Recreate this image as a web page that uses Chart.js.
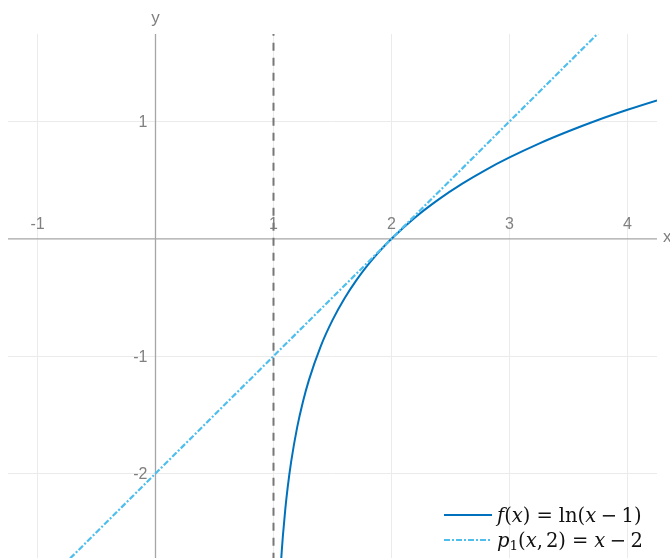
<!DOCTYPE html>
<html>
<head>
<meta charset="utf-8">
<script src="https://cdn.jsdelivr.net/npm/chart.js@4"></script>
<style>
  html, body { margin: 0; padding: 0; background: #ffffff; }
  #wrap { position: relative; width: 670px; height: 558px; }
</style>
</head>
<body>
<div id="wrap"><canvas id="c" width="670" height="558"></canvas></div>
<script>
// ---- data ----
const fX = [1.03, 1.04, 1.05, 1.06, 1.07, 1.08, 1.1, 1.12, 1.15, 1.2, 1.25, 1.3, 1.4, 1.5, 1.6, 1.7, 1.8, 1.9, 2.0, 2.2, 2.4, 2.6, 2.8, 3.0, 3.25, 3.5, 3.75, 4.0, 4.25, 4.3];
const fY = [-3.507, -3.219, -2.996, -2.813, -2.659, -2.526, -2.303, -2.120, -1.897, -1.609, -1.386, -1.204, -0.916, -0.693, -0.511, -0.357, -0.223, -0.105, 0.0, 0.182, 0.336, 0.470, 0.588, 0.693, 0.811, 0.916, 1.012, 1.099, 1.179, 1.194];
const tangentX = [-1.3, 4.3];
const tangentY = [-3.3, 2.3];
const asymptoteX = [1, 1];
const asymptoteY = [-3, 2];
const xTicks = [-1, 0, 1, 2, 3, 4];
const yTicks = [-2, -1, 1];
const xTickLabels = ['-1', '', '1', '2', '3', '4'];
const yTickLabels = ['-2', '-1', '1'];
const seriesNames = ['f(x) = ln(x − 1)', 'p1(x, 2) = x − 2'];

const toPts = (xs, ys) => xs.map((x, i) => ({ x: x, y: ys[i] }));

const axesPlugin = {
  id: 'centerAxes',
  beforeDatasetsDraw(chart) {
    const { ctx, chartArea: a, scales: { x, y } } = chart;
    const x0 = x.getPixelForValue(0), y0 = y.getPixelForValue(0);
    ctx.save();
    ctx.strokeStyle = '#a6a6a6';
    ctx.lineWidth = 1.3;
    ctx.beginPath();
    ctx.moveTo(a.left, y0); ctx.lineTo(a.right, y0);
    ctx.moveTo(x0, a.top); ctx.lineTo(x0, a.bottom);
    ctx.stroke();
    ctx.fillStyle = '#808080';
    ctx.font = '16px "Liberation Sans", Arial, sans-serif';
    ctx.textAlign = 'center';
    ctx.textBaseline = 'alphabetic';
    xTicks.forEach((v, i) => {
      if (!xTickLabels[i]) return;
      ctx.fillText(xTickLabels[i], x.getPixelForValue(v), y0 - 9.5);
    });
    ctx.textAlign = 'right';
    ctx.textBaseline = 'middle';
    yTicks.forEach((v, i) => {
      ctx.fillText(yTickLabels[i], x0 - 8, y.getPixelForValue(v) + 1);
    });
    ctx.font = '17px "Liberation Sans", Arial, sans-serif';
    ctx.textAlign = 'center';
    ctx.textBaseline = 'middle';
    ctx.fillText('y', x0, 18);
    ctx.textAlign = 'left';
    ctx.fillText('x', a.right + 6, y0 - 1);
    ctx.restore();
  },
  afterDraw(chart) {
    const { ctx } = chart;
    ctx.save();
    // parts: [text, style] with style 0 upright, 1 italic, 2 subscript; numbers are gaps in px
    const rows = [
      { y: 515, color: '#0072BD', dash: [], parts: [
        ['f', 1], ['(', 0], ['x', 1], [')', 0], 6, ['=', 0], 6, ['ln(', 0], ['x', 1], 4.5, ['−', 0], 4.5, ['1)', 0]] },
      { y: 540, color: '#4DBEEE', dash: [6, 2, 2, 2], parts: [
        ['p', 1], ['1', 2], ['(', 0], ['x', 1], [',', 0], 3, ['2)', 0], 6, ['=', 0], 6, ['x', 1], 4.5, ['−', 0], 4.5, ['2', 0]] }
    ];
    rows.forEach(r => {
      ctx.strokeStyle = r.color;
      ctx.lineWidth = 2;
      ctx.setLineDash(r.dash);
      ctx.beginPath();
      ctx.moveTo(444, r.y); ctx.lineTo(492, r.y);
      ctx.stroke();
      ctx.setLineDash([]);
      ctx.fillStyle = '#111111';
      ctx.textBaseline = 'alphabetic';
      ctx.textAlign = 'left';
      let cx = 497;
      r.parts.forEach(p => {
        if (typeof p === 'number') { cx += p; return; }
        const [t, st] = p;
        if (st === 1) ctx.font = 'italic 19.5px "DejaVu Serif", serif';
        else if (st === 2) ctx.font = '13.5px "DejaVu Serif", serif';
        else ctx.font = '19.5px "DejaVu Serif", serif';
        const by = st === 2 ? r.y + 10 : r.y + 6.5;
        ctx.fillText(t, cx, by);
        cx += ctx.measureText(t).width;
      });
    });
    ctx.restore();
  }
};

new Chart(document.getElementById('c'), {
  type: 'scatter',
  data: {
    datasets: [
      { label: seriesNames[0], data: toPts(fX, fY), showLine: true, borderColor: '#0072BD',
        borderWidth: 2, pointRadius: 0, cubicInterpolationMode: 'monotone', order: 2 },
      { label: seriesNames[1], data: toPts(tangentX, tangentY), showLine: true, borderColor: '#4DBEEE',
        borderWidth: 2.2, borderDash: [6, 2, 2, 2], pointRadius: 0, order: 1 },
      { label: 'asymptote', data: toPts(asymptoteX, asymptoteY), showLine: true, borderColor: '#777777',
        borderWidth: 2, borderDash: [8, 7], pointRadius: 0, order: 3 }
    ]
  },
  plugins: [axesPlugin],
  options: {
    responsive: false,
    animation: false,
    layout: { padding: { left: 8, right: 13, top: 34, bottom: 0 } },
    plugins: { legend: { display: false }, tooltip: { enabled: false } },
    scales: {
      x: {
        type: 'linear', min: -1.25, max: 4.25,
        afterBuildTicks: s => { s.ticks = xTicks.map(v => ({ value: v })); },
        ticks: { display: false },
        grid: { color: '#ebebeb', lineWidth: 1, drawTicks: false, tickLength: 0 },
        border: { display: false }
      },
      y: {
        type: 'linear', min: -2.72, max: 1.745,
        afterBuildTicks: s => { s.ticks = yTicks.map(v => ({ value: v })); },
        ticks: { display: false },
        grid: { color: '#ebebeb', lineWidth: 1, drawTicks: false, tickLength: 0 },
        border: { display: false }
      }
    }
  }
});
</script>
</body>
</html>
